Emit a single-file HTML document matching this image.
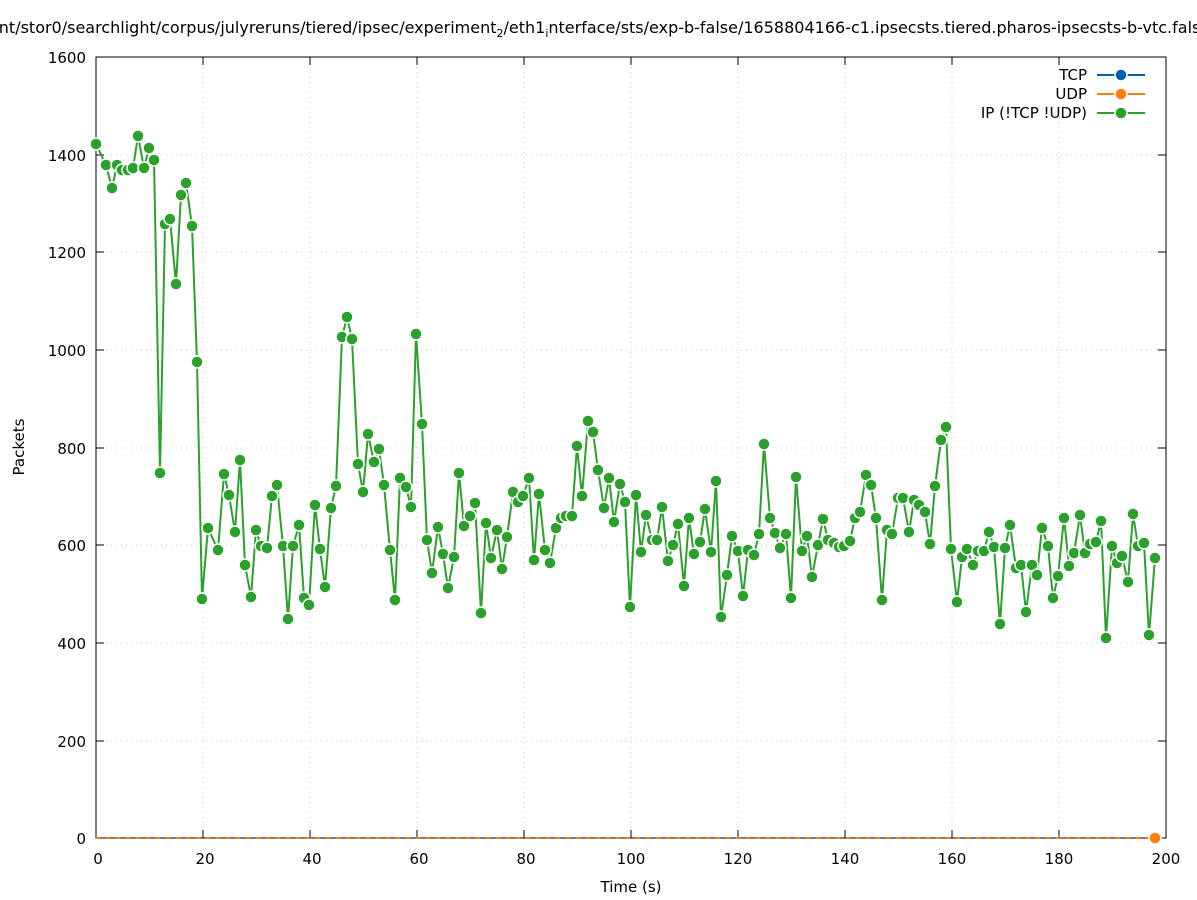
<!DOCTYPE html>
<html><head><meta charset="utf-8"><style>
body{margin:0;background:#fff}
svg{display:block;font-family:"DejaVu Sans","Liberation Sans",sans-serif}
</style></head><body>
<svg width="1197" height="900" viewBox="0 0 1197 900" xmlns="http://www.w3.org/2000/svg">
<text x="594" y="33" font-size="16" text-anchor="middle">/mnt/stor0/searchlight/corpus/julyreruns/tiered/ipsec/experiment<tspan font-size="11" dy="4">2</tspan><tspan dy="-4">/eth1</tspan><tspan font-size="11" dy="4">i</tspan><tspan dy="-4">nterface/sts/exp-b-false/1658804166-c1.ipsecsts.tiered.pharos-ipsecsts-b-vtc.false</tspan></text>
<g stroke="#ccc" stroke-dasharray="1,4" stroke-width="1">
<line x1="96" y1="741" x2="1166" y2="741"/><line x1="96" y1="643" x2="1166" y2="643"/><line x1="96" y1="545" x2="1166" y2="545"/><line x1="96" y1="448" x2="1166" y2="448"/><line x1="96" y1="350" x2="1166" y2="350"/><line x1="96" y1="252" x2="1166" y2="252"/><line x1="96" y1="155" x2="1166" y2="155"/>
<line x1="203" y1="57" x2="203" y2="838"/><line x1="310" y1="57" x2="310" y2="838"/><line x1="417" y1="57" x2="417" y2="838"/><line x1="524" y1="57" x2="524" y2="838"/><line x1="631" y1="57" x2="631" y2="838"/><line x1="738" y1="57" x2="738" y2="838"/><line x1="845" y1="57" x2="845" y2="838"/><line x1="952" y1="57" x2="952" y2="838"/><line x1="1059" y1="57" x2="1059" y2="838"/>
</g>
<rect x="96" y="57" width="1070" height="781" fill="none" stroke="#000" stroke-width="1"/>
<g stroke="#000" stroke-width="1">
<path d="M96 838h8M96 741h8M96 643h8M96 545h8M96 448h8M96 350h8M96 252h8M96 155h8M96 57h8"/>
<path d="M1166 838h-8M1166 741h-8M1166 643h-8M1166 545h-8M1166 448h-8M1166 350h-8M1166 252h-8M1166 155h-8M1166 57h-8"/>
<path d="M96 838v-8M203 838v-8M310 838v-8M417 838v-8M524 838v-8M631 838v-8M738 838v-8M845 838v-8M952 838v-8M1059 838v-8M1166 838v-8"/>
<path d="M203 57v8M310 57v8M417 57v8M524 57v8M631 57v8M738 57v8M845 57v8M952 57v8M1059 57v8"/>
</g>
<g font-size="15" text-anchor="end">
<text x="86" y="844">0</text><text x="86" y="747">200</text><text x="86" y="649">400</text><text x="86" y="551">600</text><text x="86" y="454">800</text><text x="86" y="356">1000</text><text x="86" y="258">1200</text><text x="86" y="161">1400</text><text x="86" y="63">1600</text>
</g>
<g font-size="15" text-anchor="middle">
<text x="98" y="864">0</text><text x="205" y="864">20</text><text x="312" y="864">40</text><text x="419" y="864">60</text><text x="526" y="864">80</text><text x="631" y="864">100</text><text x="738" y="864">120</text><text x="845" y="864">140</text><text x="952" y="864">160</text><text x="1059" y="864">180</text><text x="1166" y="864">200</text>
<text x="631" y="892">Time (s)</text>
<text transform="translate(24,447) rotate(-90)">Packets</text>
</g>
<line x1="96" y1="838" x2="1155" y2="838" stroke="#ff7f0e" stroke-width="2" stroke-dasharray="4,6"/>
<circle cx="1155" cy="838" r="6" fill="#ff7f0e" stroke="#fff" stroke-width="1.5"/>
<g id="ser"></g>
<g font-size="15" text-anchor="end">
<text x="1087" y="80">TCP</text><text x="1087" y="99">UDP</text><text x="1087" y="118">IP (!TCP  !UDP)</text>
</g>
<line x1="1097" y1="75" x2="1145" y2="75" stroke="#0060ad" stroke-width="2"/><circle cx="1121" cy="75" r="6" fill="#0060ad" stroke="#fff" stroke-width="1.5"/>
<line x1="1097" y1="94" x2="1145" y2="94" stroke="#ff7f0e" stroke-width="2"/><circle cx="1121" cy="94" r="6" fill="#ff7f0e" stroke="#fff" stroke-width="1.5"/>
<line x1="1097" y1="113" x2="1145" y2="113" stroke="#2ca02c" stroke-width="2"/><circle cx="1121" cy="113" r="6" fill="#2ca02c" stroke="#fff" stroke-width="1.5"/>
</svg>
<script>
var p=[96,144,106,165,112,188,117,165,122,170,128,170,133,168,138,136,144,168,149,148,154,160,160,473,165,224,170,219,176,284,181,195,186,183,192,226,197,362,202,599,208,528,218,550,224,474,229,495,235,532,240,460,245,565,251,597,256,530,261,546,267,548,272,496,277,485,283,546,288,619,293,546,299,525,304,598,309,605,315,505,320,549,325,587,331,508,336,486,342,337,347,317,352,339,358,464,363,492,368,434,374,462,379,449,384,485,390,550,395,600,400,478,406,487,411,507,416,334,422,424,427,540,432,573,438,527,443,554,448,588,454,557,459,473,464,526,470,516,475,503,481,613,486,523,491,558,497,530,502,569,507,537,513,492,518,502,523,496,529,478,534,560,539,494,545,550,550,563,556,528,561,518,566,516,572,516,577,446,582,496,588,421,593,432,598,470,604,508,609,478,614,522,620,484,625,502,630,607,636,495,641,552,646,515,652,540,657,540,662,507,668,561,673,545,678,524,684,586,689,518,694,554,700,542,705,509,711,552,716,481,721,617,727,575,732,536,738,551,743,596,748,550,754,555,759,534,764,444,770,518,775,533,780,548,786,534,791,598,796,477,802,551,807,536,812,577,818,545,823,519,828,540,834,543,839,547,844,546,850,541,855,518,860,512,866,475,871,485,876,518,882,600,887,530,892,534,898,498,903,498,909,532,914,500,919,505,925,512,930,544,935,486,941,440,946,427,951,549,957,602,962,557,967,549,973,565,978,551,984,551,989,532,994,547,1000,624,1005,548,1010,525,1016,568,1021,565,1026,612,1032,565,1037,575,1042,528,1048,546,1053,598,1058,576,1064,518,1069,566,1074,553,1080,515,1085,553,1090,544,1096,542,1101,521,1106,638,1112,546,1117,563,1122,556,1128,582,1133,514,1138,546,1144,543,1149,635,1155,558];
var s='<polyline fill="none" stroke="#2ca02c" stroke-width="2" points="'+p.join(' ')+'"/>';
for(var i=0;i<p.length;i+=2)s+='<circle cx="'+p[i]+'" cy="'+p[i+1]+'" r="6" fill="#2ca02c" stroke="#fff" stroke-width="1.5"/>';
document.getElementById('ser').innerHTML=s;
</script>
</body></html>
